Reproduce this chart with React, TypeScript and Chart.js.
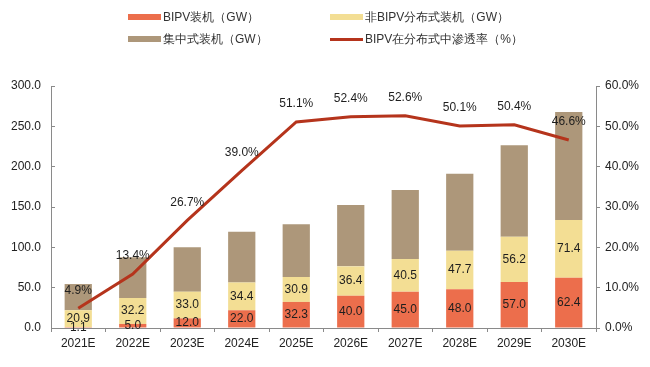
import React, { useEffect, useRef } from "react";
import { Chart, registerables } from "chart.js";

Chart.register(...registerables);

const categories = ["2021E", "2022E", "2023E", "2024E", "2025E", "2026E", "2027E", "2028E", "2029E", "2030E"];
const bipv = [1.1, 5.0, 12.0, 22.0, 32.3, 40.0, 45.0, 48.0, 57.0, 62.4];
const nonBipv = [20.9, 32.2, 33.0, 34.4, 30.9, 36.4, 40.5, 47.7, 56.2, 71.4];
const centralized = [32.5, 50.5, 55.0, 63.0, 65.3, 76.0, 85.5, 95.5, 113.2, 134.0];
const penetration = [4.9, 13.4, 26.7, 39.0, 51.1, 52.4, 52.6, 50.1, 50.4, 46.6];

const leftTicks = { min: 0, max: 300, step: 50 };
const rightTicks = { min: 0, max: 60, step: 10 };

const seriesNames = ["BIPV装机（GW）", "非BIPV分布式装机（GW）", "集中式装机（GW）", "BIPV在分布式中渗透率（%）"];
const colors = ["#EC6E4C", "#F3DE94", "#AD977A", "#B5341C"];

const FONT = '"Liberation Sans", Arial, sans-serif';

const labelPlugin = {
  id: "valueLabels",
  afterDatasetsDraw(chart: any) {
    const ctx = chart.ctx;
    ctx.save();
    ctx.font = `12px ${FONT}`;
    ctx.fillStyle = "#1e1e1e";
    ctx.textAlign = "center";
    ctx.textBaseline = "middle";
    const barSeries = [bipv, nonBipv];
    barSeries.forEach((vals, di) => {
      const meta = chart.getDatasetMeta(di);
      meta.data.forEach((el: any, i: number) => {
        const p = el.getProps(["x", "y", "base"], true);
        ctx.fillText(vals[i].toFixed(1), p.x, (p.y + p.base) / 2);
      });
    });
    const lm = chart.getDatasetMeta(3);
    lm.data.forEach((pt: any, i: number) => {
      ctx.fillText(penetration[i].toFixed(1) + "%", pt.x, pt.y - 18);
    });
    ctx.restore();
  },
};

export default function App() {
  const ref = useRef<HTMLCanvasElement | null>(null);

  useEffect(() => {
    document.body.style.margin = "0";
    if (!ref.current) return;
    const chart = new Chart(ref.current, {
      type: "bar",
      data: {
        labels: categories,
        datasets: [
          { type: "bar", label: seriesNames[0], data: bipv, backgroundColor: colors[0], yAxisID: "y", order: 1 },
          { type: "bar", label: seriesNames[1], data: nonBipv, backgroundColor: colors[1], yAxisID: "y", order: 1 },
          { type: "bar", label: seriesNames[2], data: centralized, backgroundColor: colors[2], yAxisID: "y", order: 1 },
          {
            type: "line",
            label: seriesNames[3],
            data: penetration,
            borderColor: colors[3],
            backgroundColor: colors[3],
            borderWidth: 3,
            pointRadius: 0,
            tension: 0,
            yAxisID: "y1",
            order: 0,
          },
        ] as any,
      },
      options: {
        animation: false,
        responsive: false,
        categoryPercentage: 0.5,
        barPercentage: 1,
        layout: { padding: { top: 86, left: 0, right: 0, bottom: 0 } },
        plugins: { legend: { display: false }, tooltip: { enabled: false } },
        scales: {
          x: {
            stacked: true,
            offset: true,
            grid: { display: true, drawOnChartArea: false, drawTicks: true, tickLength: 4, color: "#8a8a8a", offset: true },
            border: { display: true, color: "#8a8a8a", width: 1 },
            ticks: { color: "#222", font: { family: FONT, size: 12 }, padding: 4, maxRotation: 0, autoSkip: false },
            afterFit: (s: any) => {
              s.height = 39;
            },
          },
          y: {
            stacked: true,
            position: "left",
            min: leftTicks.min,
            max: leftTicks.max,
            ticks: {
              stepSize: leftTicks.step,
              color: "#222",
              font: { family: FONT, size: 12 },
              padding: 14,
              callback: (v: any) => Number(v).toFixed(1),
            },
            grid: { display: true, drawOnChartArea: false, drawTicks: true, tickLength: -4, color: "#8a8a8a" },
            border: { display: true, color: "#8a8a8a", width: 1 },
            afterFit: (s: any) => {
              s.width = 51;
            },
          },
          y1: {
            position: "right",
            min: rightTicks.min,
            max: rightTicks.max,
            ticks: {
              stepSize: rightTicks.step,
              color: "#222",
              font: { family: FONT, size: 12 },
              padding: 5,
              callback: (v: any) => Number(v).toFixed(1) + "%",
            },
            grid: { display: true, drawOnChartArea: false, drawTicks: true, tickLength: 4, color: "#8a8a8a" },
            border: { display: true, color: "#8a8a8a", width: 1 },
            afterFit: (s: any) => {
              s.width = 54;
            },
          },
        },
      } as any,
      plugins: [labelPlugin],
    });
    return () => chart.destroy();
  }, []);

  const legendItem = (i: number, left: number, top: number) => (
    <div
      key={i}
      style={{
        position: "absolute",
        left,
        top,
        height: 20,
        display: "flex",
        alignItems: "center",
        font: `12px ${FONT}`,
        color: "#333",
        whiteSpace: "nowrap",
      }}
    >
      <span
        style={{
          display: "inline-block",
          width: 33,
          height: i === 3 ? 3 : 6,
          background: colors[i],
          marginRight: 2,
        }}
      />
      {seriesNames[i]}
    </div>
  );

  return (
    <div style={{ position: "relative", width: 650, height: 367, background: "#fff" }}>
      <canvas ref={ref} width={650} height={367} style={{ display: "block" }} />
      {legendItem(0, 128, 7)}
      {legendItem(1, 330, 7)}
      {legendItem(2, 128, 29)}
      {legendItem(3, 330, 29)}
    </div>
  );
}
